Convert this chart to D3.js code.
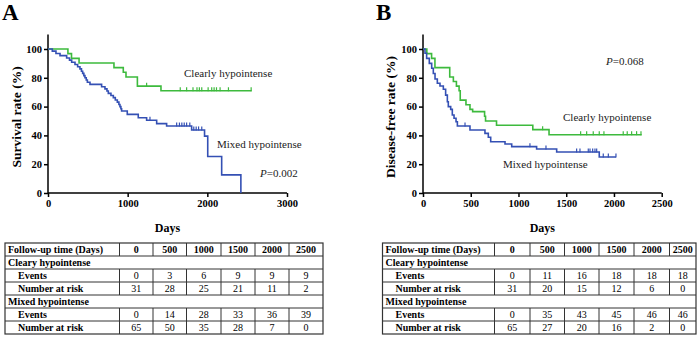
<!DOCTYPE html>
<html><head><meta charset="utf-8">
<script src="https://cdn.jsdelivr.net/npm/d3@7"></script>
<style>body{margin:0;background:#fff}svg{display:block}</style>
</head><body>
<svg id="c" width="700" height="339"></svg>
<script>
// ---------- Panel A: overall survival ----------
const aClearTimes = [0, 250, 295, 390, 828, 945, 979, 1122, 1418];
const aClearSurv  = [100, 96.8, 93.5, 90.3, 87.1, 83.9, 80.6, 74.2, 71.0];
const aClearEnd = 2556;
const aClearCensor = [1238, 1660, 1740, 1820, 1870, 1900, 1930, 2010, 2055, 2085, 2115, 2160, 2265, 2550];

const aMixedTimes = [0, 54, 100, 151, 234, 270, 297, 339, 372, 401, 420, 435, 450, 464, 480, 494, 527, 673, 715, 740, 757, 790, 820, 845, 870, 890, 903, 915, 924, 995, 1133, 1238, 1364, 1489, 1803, 1965, 2005, 2180, 2421];
const aMixedSurv  = [100, 98.5, 96.9, 95.4, 93.8, 92.3, 90.8, 89.2, 87.7, 86.2, 84.6, 83.1, 81.5, 80.0, 78.5, 76.9, 75.4, 73.8, 72.3, 70.8, 69.2, 67.7, 66.2, 64.6, 63.1, 61.5, 60.0, 58.5, 56.9, 54.6, 52.3, 50.5, 48.2, 46.5, 43.8, 39.5, 25.3, 12.6, 0];
const aMixedEnd = 2421;
const aMixedCensor = [1280, 1615, 1650, 1680, 1710, 1740, 1780, 1830, 1860, 1890, 1930];

// ---------- Panel B: disease-free survival ----------
const bClearTimes = [0, 40, 90, 125, 280, 318, 350, 378, 390, 450, 492, 520, 645, 655, 770, 1150, 1320];
const bClearSurv  = [100, 96.8, 93.5, 87.1, 80.6, 77.4, 74.2, 71.0, 64.5, 61.3, 58.1, 56.5, 53.3, 50.0, 47.0, 44.0, 40.5];
const bClearEnd = 2290;
const bClearCensor = [1253, 1651, 1714, 1783, 1846, 1895, 2097, 2139, 2185, 2237, 2283];

const bMixedTimes = [0, 21, 38, 66, 91, 108, 126, 150, 178, 213, 237, 255, 265, 290, 307, 325, 346, 360, 492, 649, 684, 709, 859, 929, 1190, 1400, 1846];
const bMixedSurv  = [100, 97, 93.5, 90, 86.6, 83, 79.2, 76.2, 74.3, 72, 68, 63.4, 60, 58.1, 54.2, 51.9, 49.5, 46.5, 43.7, 41.4, 38.7, 35.6, 34, 32.2, 30.6, 28.5, 25];
const bMixedEnd = 2021;
const bMixedCensor = [440, 1120, 1288, 1609, 1644, 1731, 1749, 1777, 1801, 1819, 1888, 1941, 2021];

// ---------- tables ----------
const tableHeader = "Follow-up time (Days)";
const tableDays = [0, 500, 1000, 1500, 2000, 2500];
const groupNames = ["Cleary hypointense", "Mixed hypointense"];
const rowNames = ["Events", "Number at risk"];
const aClearEvents = [0, 3, 6, 9, 9, 9];
const aClearRisk   = [31, 28, 25, 21, 11, 2];
const aMixedEvents = [0, 14, 28, 33, 36, 39];
const aMixedRisk   = [65, 50, 35, 28, 7, 0];
const bClearEvents = [0, 11, 16, 18, 18, 18];
const bClearRisk   = [31, 20, 15, 12, 6, 0];
const bMixedEvents = [0, 35, 43, 45, 46, 46];
const bMixedRisk   = [65, 27, 20, 16, 2, 0];

const GREEN = "#3dba3d", BLUE = "#3450b4";
const FONT = "'Liberation Serif','Times New Roman',serif";
const svg = d3.select("#c");

function panel(opt) {
  const x = d3.scaleLinear().domain([0, opt.xMax]).range([opt.x0, opt.x1]);
  const y = d3.scaleLinear().domain([0, 110]).range([193, 34.6]);
  const g = svg.append("g");
  const ax = g.append("g").attr("transform", "translate(0,193)")
    .call(d3.axisBottom(x).tickValues(opt.xTicks).tickSize(4).tickSizeOuter(0).tickPadding(3).tickFormat(d3.format("d")));
  const ay = g.append("g").attr("transform", `translate(${opt.x0},0)`)
    .call(d3.axisLeft(y).tickValues([0,20,40,60,80,100]).tickSize(4).tickSizeOuter(0).tickPadding(2));
  [ax, ay].forEach(a => {
    a.selectAll("path,line").attr("stroke", "#000").attr("stroke-width", 1.5);
    a.selectAll("text").attr("font-family", FONT).attr("font-weight", "bold").attr("font-size", 10.5).attr("fill", "#000");
  });
  ax.select("path").attr("d", `M${opt.x0},0H${opt.x1}`);
  ay.select("path").attr("d", `M0,193V34.6`);
  g.append("text").attr("x", (opt.x0 + opt.x1) / 2).attr("y", 232).attr("text-anchor", "middle")
    .attr("font-family", FONT).attr("font-weight", "bold").attr("font-size", 12).text("Days");
  g.append("text").attr("transform", `translate(${opt.yTitleX},117) rotate(-90)`).attr("text-anchor", "middle")
    .attr("font-family", FONT).attr("font-weight", "bold").attr("font-size", 13.5).text(opt.yTitle);
  g.append("text").attr("x", opt.letterX).attr("y", 20).attr("font-family", FONT).attr("font-weight", "bold")
    .attr("font-size", 23).text(opt.letter);

  const line = d3.line().x(d => x(d[0])).y(d => y(d[1])).curve(d3.curveStepAfter);
  opt.series.forEach(s => {
    const pts = s.t.map((t, i) => [t, s.s[i]]);
    pts.push([s.end, s.s[s.s.length - 1]]);
    g.append("path").attr("d", line(pts)).attr("fill", "none").attr("stroke", s.color).attr("stroke-width", 1.6);
    const level = t => { let v = s.s[0]; s.t.forEach((tt, i) => { if (tt <= t) v = s.s[i]; }); return v; };
    g.selectAll(null).data(s.censor).enter().append("line")
      .attr("x1", d => x(d)).attr("x2", d => x(d))
      .attr("y1", d => y(level(d)) - 3.5).attr("y2", d => y(level(d)) + 0.5)
      .attr("stroke", s.color).attr("stroke-width", 1.2);
  });
  opt.labels.forEach(l => {
    const t = g.append("text").attr("x", l.x).attr("y", l.y).attr("font-family", FONT).attr("font-size", 11).attr("fill", "#222");
    if (l.p) {
      t.append("tspan").attr("font-style", "italic").text("P");
      t.append("tspan").text(l.text);
    } else t.text(l.text);
  });
}

panel({
  x0: 48, x1: 287, xMax: 3000, xTicks: [0, 1000, 2000, 3000],
  yTitle: "Survival rate (%)", yTitleX: 21, letter: "A", letterX: 2,
  series: [
    {t: aClearTimes, s: aClearSurv, end: aClearEnd, censor: aClearCensor, color: GREEN},
    {t: aMixedTimes, s: aMixedSurv, end: aMixedEnd, censor: aMixedCensor, color: BLUE}
  ],
  labels: [
    {x: 184, y: 77, text: "Clearly hypointense"},
    {x: 217, y: 148, text: "Mixed hypointense"},
    {x: 260, y: 177, text: "=0.002", p: true}
  ]
});
panel({
  x0: 423, x1: 661.7, xMax: 2500, xTicks: [0, 500, 1000, 1500, 2000, 2500],
  yTitle: "Disease-free rate (%)", yTitleX: 395, letter: "B", letterX: 376,
  series: [
    {t: bClearTimes, s: bClearSurv, end: bClearEnd, censor: bClearCensor, color: GREEN},
    {t: bMixedTimes, s: bMixedSurv, end: bMixedEnd, censor: bMixedCensor, color: BLUE}
  ],
  labels: [
    {x: 606, y: 65, text: "=0.068", p: true},
    {x: 563, y: 121, text: "Clearly hypointense"},
    {x: 503, y: 168, text: "Mixed hypointense"}
  ]
});

function table(cols, data) {
  const top = 243, rh = 13, nRows = 7;
  const g = svg.append("g").attr("font-family", FONT).attr("font-size", 10);
  const left = cols[0], right = cols[cols.length - 1];
  const rows = [
    {label: tableHeader, vals: tableDays, header: true},
    {label: groupNames[0], group: true},
    {label: rowNames[0], vals: data[0], indent: true},
    {label: rowNames[1], vals: data[1], indent: true},
    {label: groupNames[1], group: true},
    {label: rowNames[0], vals: data[2], indent: true},
    {label: rowNames[1], vals: data[3], indent: true}
  ];
  rows.forEach((r, i) => {
    const yT = top + i * rh;
    g.append("text").attr("x", left + (r.indent ? 13 : 3)).attr("y", yT + 10)
      .attr("font-weight", "bold").text(r.label);
    if (r.vals) {
      r.vals.forEach((v, j) => {
        g.append("text").attr("x", (cols[j + 1] + cols[j + 2]) / 2).attr("y", yT + 10)
          .attr("text-anchor", "middle").attr("font-weight", r.header ? "bold" : "normal").text(v);
      });
      for (let j = 1; j < cols.length - 1; j++) {
        g.append("line").attr("x1", cols[j]).attr("x2", cols[j]).attr("y1", yT).attr("y2", yT + rh)
          .attr("stroke", "#333").attr("stroke-width", 1);
      }
    }
    if (i > 0) g.append("line").attr("x1", left).attr("x2", right).attr("y1", yT).attr("y2", yT)
      .attr("stroke", "#333").attr("stroke-width", 1);
  });
  g.append("rect").attr("x", left).attr("y", top).attr("width", right - left).attr("height", nRows * rh)
    .attr("fill", "none").attr("stroke", "#333").attr("stroke-width", 1.2);
}
table([5, 119.5, 153, 186.5, 221, 255, 289, 323], [aClearEvents, aClearRisk, aMixedEvents, aMixedRisk]);
table([382.5, 494.5, 530, 564.5, 599, 634, 669.5, 696], [bClearEvents, bClearRisk, bMixedEvents, bMixedRisk]);
</script>
</body></html>
